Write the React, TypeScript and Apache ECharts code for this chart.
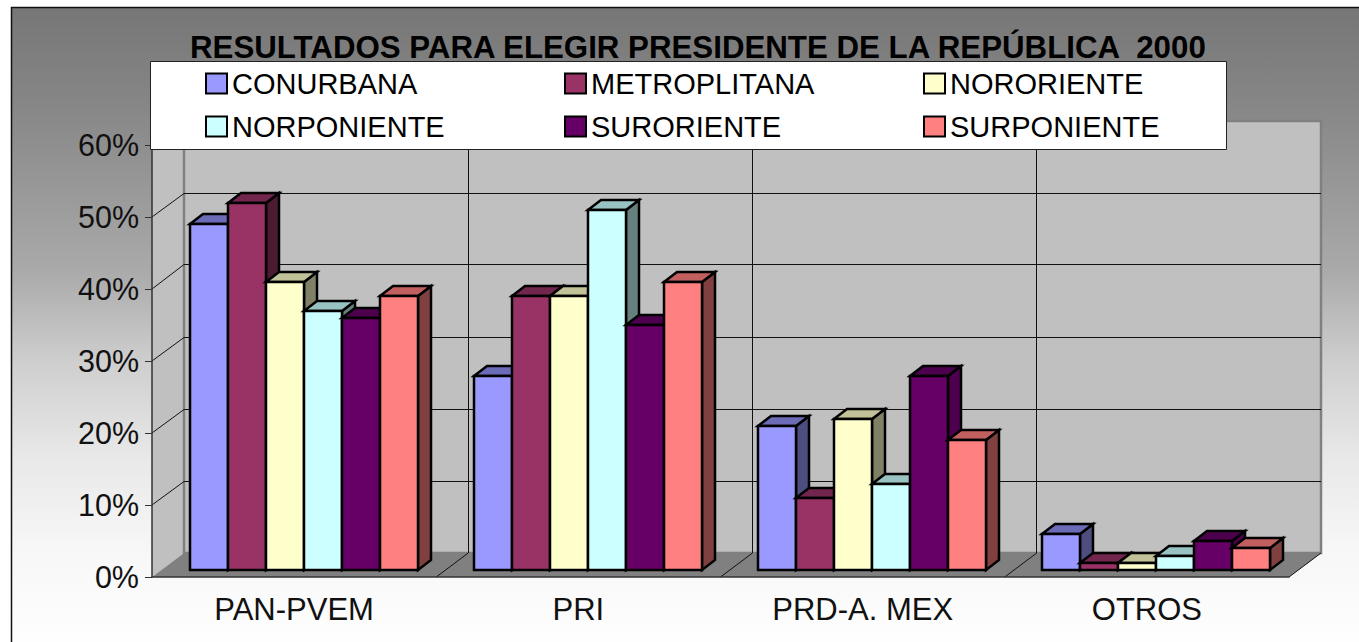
import React, { useEffect, useRef } from "react";
import * as echarts from "echarts";

const categories = ["PAN-PVEM", "PRI", "PRD-A. MEX", "OTROS"];
const yTicks = [0, 0.1, 0.2, 0.3, 0.4, 0.5, 0.6];
const conurbana = [0.48, 0.27, 0.2, 0.05];
const metropolitana = [0.51, 0.38, 0.1, 0.01];
const nororiente = [0.4, 0.38, 0.21, 0.01];
const norponiente = [0.36, 0.5, 0.12, 0.02];
const suroriente = [0.35, 0.34, 0.27, 0.04];
const surponiente = [0.38, 0.4, 0.18, 0.03];
const seriesNames = ["CONURBANA", "METROPLITANA", "NORORIENTE", "NORPONIENTE", "SURORIENTE", "SURPONIENTE"];
const seriesValues = [conurbana, metropolitana, nororiente, norponiente, suroriente, surponiente];
const colors = ["#9999ff", "#993366", "#ffffcc", "#ccffff", "#660066", "#ff8080"];
const topColors = ["#6b6bb8", "#72264e", "#c2c299", "#99c2c2", "#4d004d", "#c26060"];
const sideColors = ["#4d4d80", "#4d1a33", "#808066", "#668080", "#4d004d", "#804040"];
const legendColumns = [
  { left: 205, names: ["CONURBANA", "NORPONIENTE"] },
  { left: 564, names: ["METROPLITANA", "SURORIENTE"] },
  { left: 923, names: ["NORORIENTE", "SURPONIENTE"] },
];

const FONT = "'Liberation Sans', Arial, sans-serif";
const W = 1359;
const H = 642;
const GRID = { left: 152, right: 70, top: 145, bottom: 65 };
const WALL_DX = 32;
const WALL_DY = -24;
const BAR_DX = 13;
const BAR_DY = -10;
const BAR_SHIFT_X = 9.5;
const BAR_SHIFT_Y = -7;
const BAR_RATIO = 0.1337;

const crisp = (v: number) => Math.round(v - 0.5) + 0.5;

function wallItem(params: any, api: any) {
  const v = api.value(0);
  const x0 = params.coordSys.x;
  const x1 = x0 + params.coordSys.width;
  const y = api.coord([0, v])[1];
  const yBase = api.coord([0, 0])[1];
  const yTop = api.coord([0, 0.6])[1];
  const children: any[] = [];
  if (params.dataIndex === 0) {
    children.push({
      type: "polygon",
      shape: { points: [[x0, yTop], [x0 + WALL_DX, yTop + WALL_DY], [x0 + WALL_DX, yBase + WALL_DY], [x0, yBase]] },
      style: { fill: "#c0c0c0" },
    });
    children.push({
      type: "polygon",
      shape: { points: [[x0 + WALL_DX, yTop + WALL_DY], [x1 + WALL_DX, yTop + WALL_DY], [x1 + WALL_DX, yBase + WALL_DY], [x0 + WALL_DX, yBase + WALL_DY]] },
      style: { fill: "#c0c0c0", stroke: "#808080", lineWidth: 2.5 },
    });
    children.push({
      type: "polygon",
      shape: { points: [[x0, yBase], [x0 + WALL_DX, yBase + WALL_DY], [x1 + WALL_DX, yBase + WALL_DY], [x1, yBase]] },
      style: { fill: "#808080" },
    });
    const band = (x1 - x0) / categories.length;
    for (let k = 1; k <= categories.length; k++) {
      const bx = x0 + band * k;
      children.push({
        type: "line",
        shape: { x1: bx, y1: yBase, x2: bx + WALL_DX, y2: yBase + WALL_DY },
        style: { stroke: "#111", lineWidth: 1 },
      });
      if (k < categories.length) {
        const vx = crisp(bx + WALL_DX);
        children.push({
          type: "line",
          shape: { x1: vx, y1: yBase + WALL_DY, x2: vx, y2: yTop + WALL_DY },
          style: { stroke: "#111", lineWidth: 1 },
        });
      }
    }
  }
  if (v > 0 && v < 0.6) {
    const gy = crisp(y + WALL_DY);
    children.push({
      type: "polyline",
      shape: { points: [[x0, y], [x0 + WALL_DX, gy], [x1 + WALL_DX, gy]] },
      style: { stroke: "#111", lineWidth: 1, fill: "none" },
    });
  }
  return { type: "group", children };
}

function barItem(seriesIndex: number) {
  return (params: any, api: any) => {
    const cat = api.value(0);
    const val = api.value(1);
    const band = api.size([1, 0])[0];
    const bw = band * BAR_RATIO;
    const top = api.coord([cat, val]);
    const base = api.coord([cat, 0]);
    const xl = Math.round(top[0] + BAR_SHIFT_X + (seriesIndex - 3) * bw);
    const xr = xl + Math.round(bw);
    const yt = Math.round(top[1] + BAR_SHIFT_Y);
    const yb = Math.round(base[1] + BAR_SHIFT_Y);
    const stroke = { stroke: "#000", lineWidth: 2.5, lineJoin: "miter" };
    return {
      type: "group",
      children: [
        {
          type: "polygon",
          shape: { points: [[xr, yt], [xr + BAR_DX, yt + BAR_DY], [xr + BAR_DX, yb + BAR_DY], [xr, yb]] },
          style: { fill: sideColors[seriesIndex], ...stroke },
        },
        {
          type: "polygon",
          shape: { points: [[xl, yt], [xl + BAR_DX, yt + BAR_DY], [xr + BAR_DX, yt + BAR_DY], [xr, yt]] },
          style: { fill: topColors[seriesIndex], ...stroke },
        },
        {
          type: "rect",
          shape: { x: xl, y: yt, width: xr - xl, height: yb - yt },
          style: { fill: colors[seriesIndex], ...stroke },
        },
      ],
    };
  };
}

export default function App() {
  const ref = useRef<HTMLDivElement>(null);
  useEffect(() => {
    document.body.style.margin = "0";
    const chart = echarts.init(ref.current!, undefined, { renderer: "svg" });
    chart.setOption({
      animation: false,
      textStyle: { fontFamily: FONT },
      title: {
        text: "RESULTADOS PARA ELEGIR PRESIDENTE DE LA REPÚBLICA  2000",
        left: 190,
        top: 32,
        padding: 0,
        textStyle: { fontFamily: FONT, fontSize: 31.25, fontWeight: "bold", color: "#000" },
      },
      grid: GRID,
      legend: legendColumns.map((col) => ({
        data: col.names,
        orient: "vertical",
        left: col.left,
        top: 69,
        padding: 0,
        icon: "rect",
        itemWidth: 21,
        itemHeight: 20,
        itemGap: 14,
        z: 4,
        selectedMode: false,
        itemStyle: { borderColor: "#000", borderWidth: 2 },
        textStyle: { fontFamily: FONT, fontSize: 29, color: "#000" },
      })),
      xAxis: {
        type: "category",
        data: categories,
        z: 2,
        axisLine: { lineStyle: { color: "#333", width: 1.5 } },
        axisTick: { length: 7, lineStyle: { color: "#333" } },
        axisLabel: { fontFamily: FONT, fontSize: 31, color: "#111", margin: 17 },
      },
      yAxis: {
        type: "value",
        min: 0,
        max: 0.6,
        interval: 0.1,
        z: 2,
        splitLine: { show: false },
        axisLine: { show: true, lineStyle: { color: "#333", width: 1.5 } },
        axisTick: { show: true, length: 7, lineStyle: { color: "#333" } },
        axisLabel: {
          fontFamily: FONT,
          fontSize: 30.5,
          color: "#111",
          margin: 13,
          formatter: (v: number) => Math.round(v * 100) + "%",
        },
      },
      graphic: [
        {
          type: "rect",
          z: -1,
          silent: true,
          shape: { x: 11.5, y: 7.5, width: 1400, height: 660 },
          style: {
            stroke: "#111",
            lineWidth: 1.5,
            fill: new echarts.graphic.LinearGradient(0, 0, 0, 1, [
              { offset: 0, color: "#767676" },
              { offset: 0.16, color: "#888888" },
              { offset: 0.4, color: "#aaaaaa" },
              { offset: 0.54, color: "#cfcfcf" },
              { offset: 0.68, color: "#e8e8e8" },
              { offset: 0.82, color: "#f7f7f7" },
              { offset: 0.96, color: "#fefefe" },
              { offset: 1, color: "#ffffff" },
            ]),
          },
        },
        {
          type: "rect",
          z: 3,
          silent: true,
          shape: { x: 150.5, y: 61.5, width: 1076, height: 88 },
          style: { fill: "#ffffff", stroke: "#222", lineWidth: 1 },
        },
      ],
      series: [
        {
          type: "custom",
          name: "walls",
          z: 1,
          silent: true,
          clip: false,
          data: yTicks.map((v) => [v]),
          encode: { y: 0 },
          renderItem: wallItem,
        },
        ...seriesNames.map((name, i) => ({
          type: "custom",
          name,
          z: 2,
          clip: false,
          itemStyle: { color: colors[i], borderColor: "#000", borderWidth: 2 },
          data: seriesValues[i].map((v, c) => [c, v]),
          encode: { x: 0, y: 1 },
          renderItem: barItem(i),
        })),
      ],
    });
    return () => chart.dispose();
  }, []);
  return <div ref={ref} style={{ width: W, height: H }} />;
}
